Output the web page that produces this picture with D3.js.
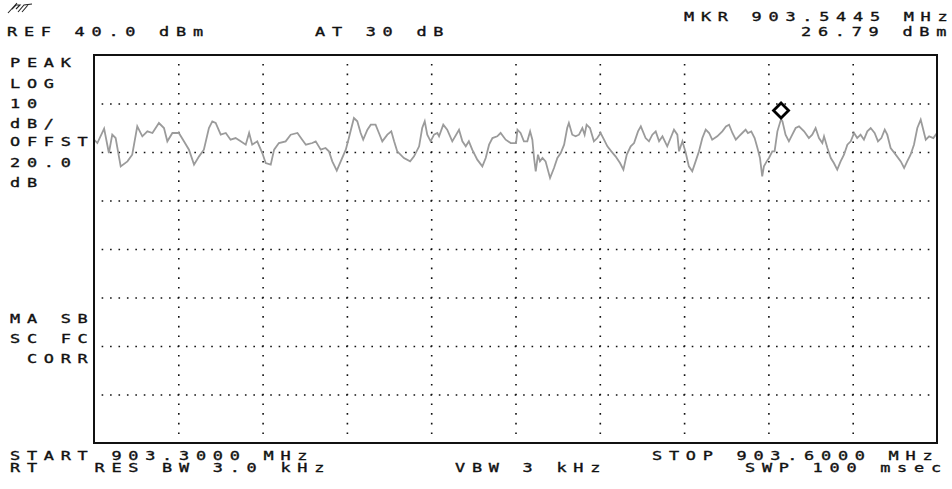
<!DOCTYPE html>
<html>
<head>
<meta charset="utf-8">
<script src="https://cdn.jsdelivr.net/npm/d3@7"></script>
<style>
  html, body { margin: 0; padding: 0; background: #fff; }
  svg { display: block; }
  .lbl { font-family: "DejaVu Sans Mono", monospace; font-size: 12.5px; fill: #111; stroke: #111; stroke-width: 0.35px; white-space: pre; }
</style>
</head>
<body>
<svg id="chart" width="952" height="489"></svg>
<script>
// ---------- data ----------
const startMHz = 903.3;
const stopMHz = 903.6;
const refLevel = 40;          // dBm at top
const dbPerDiv = 10;
const xDivs = 10;
const yDivs = 8;
const markerMHz = 903.5445;
const markerDBm = 26.79;

// trace: [offset from start in kHz, level in dBm]
const trace = [
[0,22.54],[1.2,21.85],[3.6,24.81],[5.3,19.79],[6.5,23.57],[7.7,22.88],[9.5,17.04],[11.9,18.07],[13.6,19.45],[15.4,25.29],[17.2,23.23],[19.0,24.26],[20.8,23.92],[23.1,25.98],[24.9,24.95],[26.1,22.20],[27.9,23.92],[30.2,23.92],[32.0,22.20],[33.8,20.48],[35.6,17.39],[37.4,19.10],[39.1,20.48],[40.9,24.95],[42.1,26.32],[43.3,25.98],[45.1,23.57],[46.9,23.92],[48.6,22.54],[50.4,22.88],[52.2,22.20],[54.0,21.51],[55.2,23.92],[56.3,21.51],[58.1,22.20],[59.9,19.79],[61.1,17.73],[62.9,17.39],[64.1,20.48],[65.8,21.85],[68.2,22.20],[70.0,23.57],[72.4,23.92],[74.1,22.54],[75.4,21.51],
[77.7,21.85],[78.9,22.20],[80.7,20.48],[82.4,20.82],[83.6,20.14],[84.8,18.07],[86.4,16.15],[87.8,18.07],[89.6,20.48],[90.7,22.88],[91.3,24.26],[92.5,27.01],[93.7,26.32],[94.9,23.92],[95.8,22.54],[97.3,24.60],[98.5,25.63],[100.2,25.63],[101.4,23.92],[102.6,22.20],[104.4,23.57],[105.8,24.26],[106.8,22.20],[107.9,20.14],[110.3,18.76],[112.5,18.07],[113.9,19.10],[115.7,21.17],[116.8,24.95],[117.7,26.32],[118.6,23.57],[119.8,22.20],[121.0,23.57],[122.2,23.92],[122.8,23.23],[124.3,25.63],[125.7,24.60],[127.5,22.20],[129.9,24.60],[131.1,22.20],[132.3,21.17],[133.4,22.20],[134.6,20.48],[136.4,18.42],[138.2,17.04],[139.4,18.76],[140.6,21.51],[141.8,22.88],[143.5,23.23],[144.7,23.92],[146.5,22.54],[148.3,21.85],[150.2,21.85],
[150.7,24.60],[151.8,23.92],[153.0,22.20],[154.2,22.20],[155.2,24.26],[156.0,22.54],[156.6,18.76],[157.2,16.01],[158.0,19.45],[158.7,18.07],[159.6,18.76],[160.7,18.07],[162.3,14.64],[163.7,16.70],[164.9,18.76],[166.1,19.79],[167.3,21.51],[168.4,24.95],[169.0,25.98],[170.2,23.57],[171.4,23.23],[172.6,23.57],[173.8,24.95],[174.6,23.57],[175.3,25.63],[176.5,24.95],[177.9,22.20],[179.1,22.88],[180.3,23.92],[181.5,22.54],[182.7,21.17],[184.1,20.14],[185.6,19.10],[187.2,17.73],[188.4,16.36],[189.6,19.45],[191.0,21.17],[192.2,21.85],[193.6,24.26],[194.6,25.29],[196.3,22.88],[197.5,22.20],[198.7,23.57],[199.9,24.26],[201.1,22.20],[202.3,23.23],[204.0,21.17],[205.2,22.88],[206.4,24.60],[207.6,23.57],[208.2,20.14],[209.4,22.20],[210.6,19.79],[211.7,17.04],[212.9,16.01],[214.1,18.07],[215.3,20.14],[216.5,22.88],[217.7,24.60],[218.9,23.92],[220.0,22.54],[221.8,23.23],[223.6,24.26],[224.9,25.29],
[226.0,25.63],[227.2,23.92],[228.4,22.54],[229.5,23.23],[230.7,23.92],[231.9,24.60],[232.7,23.92],[233.9,24.26],[235.1,22.88],[236.1,20.82],[237.0,18.76],[237.8,14.98],[238.4,17.04],[239.4,18.07],[240.2,18.76],[241.4,20.14],[242.2,20.14],[243.2,24.26],[244.5,26.79],[245.0,26.32],[246.1,23.57],[247.3,22.20],[248.5,23.57],[249.7,24.95],[250.9,25.29],[252.7,24.26],[254.4,22.88],[255.6,23.57],[256.8,24.95],[258.0,22.88],[259.2,21.85],[259.8,23.23],[261.0,20.82],[262.2,18.76],[263.3,17.73],[264.5,16.36],[265.7,18.07],[266.9,19.45],[268.1,21.51],[269.3,22.20],[270.5,23.92],[271.6,22.88],[272.8,23.57],[274.0,22.54],[275.2,24.26],[276.4,24.95],[277.8,23.92],[279.0,22.20],[280.2,22.88],[281.4,24.60],[282.3,23.57],[283.5,20.82],[285.3,19.45],[287.1,18.07],[288.3,16.70],[289.4,18.07],[290.6,19.45],[291.8,21.51],[293.0,24.95],[294.2,26.66],[294.8,25.29],[296.0,22.54],[297.2,23.23],[298.7,22.88],[300.0,23.92]
];

// annotation texts
const topTexts = [
  { t: "REF 40.0 dBm", x: 7, y: 36 },
  { t: "AT 30 dB", x: 315, y: 36 },
  { t: "MKR 903.5445 MHz", x: 684, y: 21 },
  { t: "26.79 dBm", x: 801, y: 36 }
];
const sideTexts = [
  { t: "PEAK", x: 10, y: 67 },
  { t: "LOG", x: 10, y: 88 },
  { t: "10", x: 10, y: 107.5 },
  { t: "dB/", x: 10, y: 127.5 },
  { t: "OFFST", x: 10, y: 146 },
  { t: "20.0", x: 10, y: 167 },
  { t: "dB", x: 10, y: 187 },
  { t: "MA SB", x: 10, y: 323 },
  { t: "SC FC", x: 10, y: 342.5 },
  { t: " CORR", x: 10, y: 362.5 }
];
const bottomTexts = [
  { t: "START 903.3000 MHz", x: 10, y: 460 },
  { t: "RT   RES BW 3.0 kHz", x: 10, y: 472 },
  { t: "VBW 3 kHz", x: 455, y: 472 },
  { t: "STOP 903.6000 MHz", x: 652, y: 460 },
  { t: "SWP 100 msec", x: 745, y: 472 }
];

// ---------- layout ----------
const svg = d3.select("#chart");
const L = 94, R = 937, T = 55, B = 443;
const W = R - L, H = B - T;

const x = d3.scaleLinear().domain([startMHz, stopMHz]).range([L, R]);
const y = d3.scaleLinear().domain([refLevel - yDivs * dbPerDiv, refLevel]).range([B, T]);

const xTicks = d3.range(1, xDivs).map(i => startMHz + i * (stopMHz - startMHz) / xDivs);
const yTicks = d3.range(1, yDivs).map(i => refLevel - i * dbPerDiv);

const dotX = W / xDivs / 10;   // dot pitch along horizontal lines
const dotY = H / yDivs / 5;    // dot pitch along vertical lines

const gy = svg.append("g")
  .attr("transform", `translate(${L},0)`)
  .call(d3.axisLeft(y).tickValues(yTicks).tickSize(-W).tickFormat(""));
gy.select(".domain").remove();
gy.selectAll("line")
  .attr("stroke", "#111")
  .attr("stroke-width", 1.6)
  .attr("stroke-dasharray", `1.6 ${dotX - 1.6}`)
  .attr("stroke-dashoffset", -(dotX - 0.8));

const gx = svg.append("g")
  .attr("transform", `translate(0,${B})`)
  .call(d3.axisBottom(x).tickValues(xTicks).tickSize(-H).tickFormat(""));
gx.select(".domain").remove();
gx.selectAll("line")
  .attr("stroke", "#111")
  .attr("stroke-width", 1.6)
  .attr("stroke-dasharray", `1.6 ${dotY - 1.6}`)
  .attr("stroke-dashoffset", -(dotY - 0.8));

// trace
const line = d3.line()
  .x(d => x(startMHz + d[0] / 1000))
  .y(d => y(d[1]));
svg.append("path")
  .datum(trace)
  .attr("d", line)
  .attr("fill", "none")
  .attr("stroke", "#9b9b9b")
  .attr("stroke-width", 1.8)
  .attr("stroke-linejoin", "miter");

// frame
svg.append("rect")
  .attr("x", L).attr("y", T).attr("width", W).attr("height", H)
  .attr("fill", "none").attr("stroke", "#111").attr("stroke-width", 2);

// marker diamond
const mx = x(markerMHz), my = y(markerDBm) - 8.6, r = 7.5;
svg.append("path")
  .attr("d", `M${mx},${my - r}L${mx + r},${my}L${mx},${my + r}L${mx - r},${my}Z`)
  .attr("fill", "#fff").attr("stroke", "#000").attr("stroke-width", 2.8);

// hp logo
const logo = svg.append("g").attr("transform", "translate(8,3)");
logo.append("path")
  .attr("d", "M0,10 L9,0 M4,6 L8,2 L12,2 L8,6 M10,9 L16,2 L24,1 M14,9 L20,2")
  .attr("fill", "none").attr("stroke", "#222").attr("stroke-width", 1.1);

// texts: each character on a fixed pitch, glyphs stretched horizontally
const allTexts = topTexts.concat(sideTexts, bottomTexts);
const sx = 1.35, adv = 16.9;
svg.selectAll("text.lbl")
  .data(allTexts)
  .join("text")
  .attr("class", "lbl")
  .attr("xml:space", "preserve")
  .attr("transform", d => `translate(${d.x},${d.y}) scale(${sx},1)`)
  .attr("x", d => Array.from(d.t, (c, i) => (i * adv / sx).toFixed(2)).join(" "))
  .attr("y", 0)
  .text(d => d.t);
</script>
</body>
</html>
